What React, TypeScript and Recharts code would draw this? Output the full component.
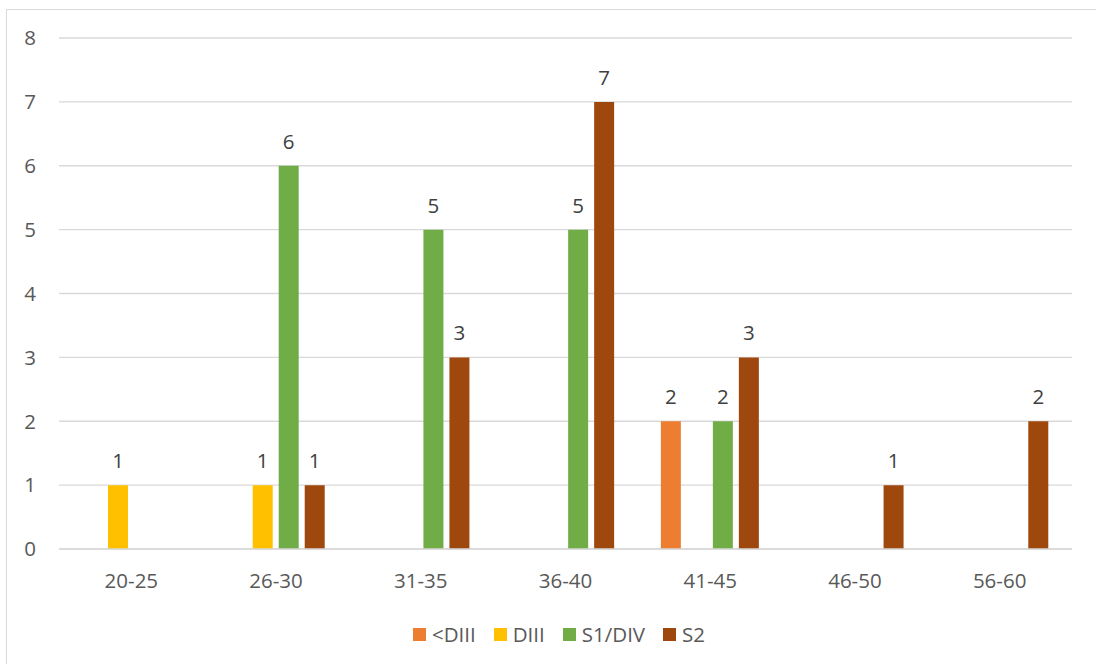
import React from 'react';
import { BarChart, Bar, XAxis, YAxis, CartesianGrid, Legend, LabelList } from 'recharts';

const categories = ['20-25', '26-30', '31-35', '36-40', '41-45', '46-50', '56-60'];
const ltDIII = [null, null, null, null, 2, null, null];
const dIII = [1, 1, null, null, null, null, null];
const s1DIV = [null, 6, 5, 5, 2, null, null];
const s2 = [null, 1, 3, 7, 3, 1, 2];
const yTicks = [0, 1, 2, 3, 4, 5, 6, 7, 8];

const seriesNames = ['<DIII', 'DIII', 'S1/DIV', 'S2'];
const seriesColors = ['#ED7D31', '#FFC000', '#70AD47', '#9E480E'];

const data = categories.map((c, i) => ({
  name: c,
  a: ltDIII[i],
  b: dIII[i],
  c: s1DIV[i],
  d: s2[i],
}));
const keys = ['a', 'b', 'c', 'd'];

const FONT = '"Open Sans", sans-serif';
const FS = 20.5;

const renderLegend = () => (
  <div
    style={{
      display: 'flex',
      justifyContent: 'center',
      alignItems: 'center',
      paddingLeft: 14,
      fontFamily: FONT,
      fontSize: FS,
      color: '#595959',
      lineHeight: '28px',
      height: 28,
    }}
  >
    {seriesNames.map((n, i) => (
      <div key={n} style={{ display: 'flex', alignItems: 'center', marginRight: i < 3 ? 18 : 0 }}>
        <span style={{ display: 'inline-block', width: 13, height: 13, background: seriesColors[i], marginRight: 6 }} />
        <span>{n}</span>
      </div>
    ))}
  </div>
);

export default function App() {
  return (
    <div style={{ position: 'fixed', left: 0, top: 0, width: 1096, height: 664, overflow: 'hidden', background: '#fff' }}>
      <div
        style={{
          position: 'absolute',
          left: 6,
          top: 9,
          width: 1100,
          height: 670,
          border: '1px solid #D9D9D9',
        }}
      />
      <div style={{ position: 'absolute', left: 7, top: 10 }}>
        <BarChart
          width={1090}
          height={654}
          data={data}
          margin={{ top: 28, right: 25, left: 0, bottom: 57 }}
          barSize={20}
          barGap={6}
        >
          <CartesianGrid vertical={false} stroke="#D9D9D9" strokeWidth={1.3} />
          <XAxis
            dataKey="name"
            axisLine={{ stroke: '#D9D9D9', strokeWidth: 1.3 }}
            tickLine={false}
            tickSize={0}
            tickMargin={24}
            height={30}
            tick={{ fill: '#595959', fontSize: FS, fontFamily: FONT }}
          />
          <YAxis
            width={52}
            domain={[0, 8]}
            ticks={yTicks}
            axisLine={false}
            tickLine={false}
            tickSize={0}
            tickMargin={23}
            tick={{ fill: '#595959', fontSize: FS, fontFamily: FONT }}
          />
          <Legend
            verticalAlign="bottom"
            content={renderLegend}
            wrapperStyle={{ position: 'absolute', bottom: 16, left: 0, width: 1090 }}
          />
          {keys.map((k, i) => (
            <Bar key={k} dataKey={k} name={seriesNames[i]} fill={seriesColors[i]} isAnimationActive={false}>
              <LabelList
                dataKey={k}
                position="top"
                offset={17}
                fill="#404040"
                fontSize={FS}
                fontFamily={FONT}
                formatter={(v: any) => (v == null ? '' : v)}
              />
            </Bar>
          ))}
        </BarChart>
      </div>
    </div>
  );
}
